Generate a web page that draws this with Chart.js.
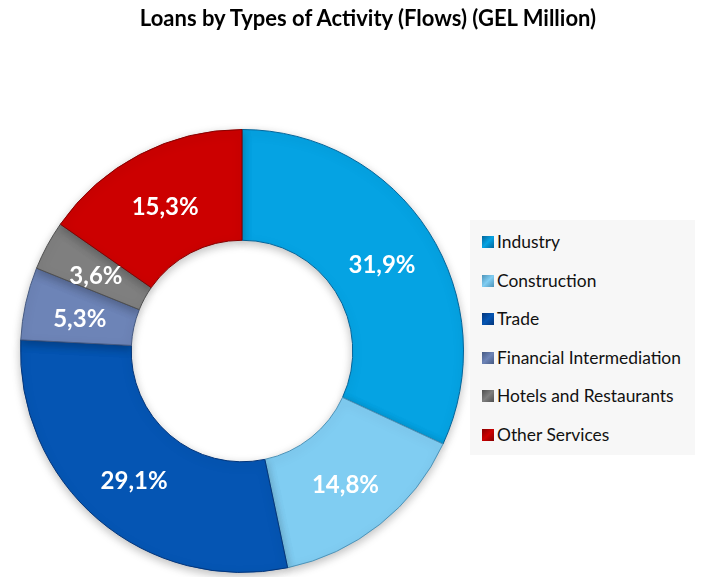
<!DOCTYPE html>
<html>
<head>
<meta charset="utf-8">
<script src="https://cdn.jsdelivr.net/npm/chart.js@4"></script>
<style>
  body { margin: 0; background: #fff; }
  #wrap { position: relative; width: 704px; height: 577px; }
  #title {
    position: absolute; left: 0; top: 4px; width: 736px; text-align: center;
    font-family: Lato, sans-serif; font-weight: bold; font-size: 22px; color: #000;
  }
  #legend {
    position: absolute; left: 470px; top: 220px; width: 225px; height: 235px;
    background: #f7f7f7; font-family: Lato, sans-serif; font-size: 17.4px; color: #111;
    list-style: none; margin: 0; padding: 0; box-sizing: border-box;
  }
  #legend li { position: absolute; left: 12px; display: flex; align-items: center; line-height: 20px; }
  #legend span.box { width: 12px; height: 12px; margin-right: 3px; display: inline-block; }
</style>
</head>
<body>
<div id="wrap">
  <canvas id="chart" width="704" height="577"></canvas>
  <div id="title">Loans by Types of Activity (Flows) (GEL Million)</div>
  <ul id="legend"></ul>
</div>
<script>
const categories = ["Industry", "Construction", "Trade", "Financial Intermediation", "Hotels and Restaurants", "Other Services"];
const shares = [31.9, 14.8, 29.1, 5.3, 3.6, 15.3];
const colors = ["#05a3e3", "#80cdf2", "#0555b3", "#6d84b7", "#7f7f7f", "#cc0000"];
const edgeColors = ["#04659a", "#4d93b8", "#03357a", "#465a82", "#4f4f4f", "#850000"];

// percent labels written on the slices, comma decimals like the source
const sliceLabels = {
  id: "sliceLabels",
  afterDatasetsDraw(chart){
    const c = chart.ctx;
    const meta = chart.getDatasetMeta(0);
    c.save();
    c.font = "bold 24px Lato, sans-serif";
    c.fillStyle = "#fff";
    c.textAlign = "center";
    c.textBaseline = "middle";
    meta.data.forEach((arc, i) => {
      const p = arc.tooltipPosition();
      c.fillText(shares[i].toFixed(1).replace(".", ",") + "%", p.x, p.y + 4);
    });
    c.restore();
  }
};

const shadow = {
  id: "shadow",
  beforeDatasetsDraw(chart){
    chart.ctx.save();
    chart.ctx.shadowColor = "rgba(0,0,0,0.25)";
    chart.ctx.shadowBlur = 10;
    chart.ctx.shadowOffsetY = 3;
  },
  afterDatasetsDraw(chart){
    chart.ctx.restore();
  }
};

const ctx = document.getElementById("chart").getContext("2d");

const chart = new Chart(ctx, {
  type: "doughnut",
  data: {
    labels: categories,
    datasets: [{
      data: shares,
      backgroundColor: colors,
      borderColor: edgeColors,
      borderWidth: 1
    }]
  },
  options: {
    responsive: false,
    animation: false,
    cutout: "50%",
    layout: { padding: { left: 20, right: 240, top: 129, bottom: 4 } },
    plugins: {
      legend: { display: false },
      tooltip: { enabled: false }
    }
  },
  plugins: [shadow, sliceLabels]
});

const legend = document.getElementById("legend");
categories.forEach((name, i) => {
  const li = document.createElement("li");
  li.style.top = (12 + i * 38.5) + "px";
  const box = document.createElement("span");
  box.className = "box";
  box.style.background = "linear-gradient(135deg, " + edgeColors[i] + ", " + colors[i] + " 50%, " + edgeColors[i] + ")";
  li.appendChild(box);
  li.appendChild(document.createTextNode(name));
  legend.appendChild(li);
});
</script>
</body>
</html>
